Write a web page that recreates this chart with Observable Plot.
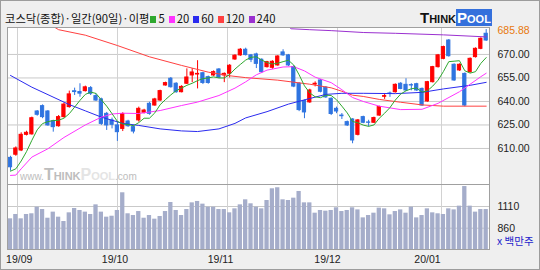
<!DOCTYPE html>
<html><head><meta charset="utf-8">
<script src="https://cdn.jsdelivr.net/npm/d3@7"></script>
<script src="https://cdn.jsdelivr.net/npm/@observablehq/plot@0.6"></script>
<style>
html,body{margin:0;padding:0;background:#efefef;}
#wrap{position:relative;width:540px;height:270px;background:#efefef;overflow:hidden;font-family:"Liberation Sans",sans-serif;}
#wrap svg{position:absolute;left:0;}
#border{position:absolute;left:0;top:0;width:540px;height:270px;box-sizing:border-box;border:1px solid #9c9c9c;pointer-events:none;}
.legend{position:absolute;left:5px;top:11px;font-family:"Noto Sans CJK KR";font-size:11.3px;line-height:14px;color:#111;white-space:nowrap;}
.sw{display:inline-block;width:6px;height:7px;margin:0 2px 0 1px;vertical-align:0px;}
.logo{position:absolute;left:420px;top:10px;font-weight:bold;font-variant:small-caps;font-size:15px;line-height:16px;white-space:nowrap;}
.logo .a{color:#111;}
.logo .b{color:#fff;background:#3470dc;padding:0 1px;}
.wm{position:absolute;left:20px;top:167px;white-space:nowrap;color:#bdbdbd;line-height:16px;}
.wm .s{font-size:10px;}
.wm .t{font-size:16px;font-weight:bold;font-variant:small-caps;}
.wm .p{font-size:16px;font-weight:bold;font-variant:small-caps;color:#e4e4e4;}
.unit{position:absolute;left:497px;top:235px;font-family:"Noto Sans CJK KR";font-size:10.5px;color:#2323cc;white-space:nowrap;line-height:12px;}
</style></head>
<body><div id="wrap"></div>
<script>
// ---- data: KOSDAQ daily, 90 trading days (2019-09-02 .. 2020-01-14) ----
const opens = [604,606,608.7,618.7,619,633.6,637,633.6,627.4,624.2,630,636.4,646.5,646,646.6,648.5,643.4,641.3,632.1,627.9,
624.7,622.5,627.2,623.6,627.9,632.8,638.5,637.4,640.6,650.2,654.5,651.3,645.9,651.3,656.6,657.2,658,655.5,656.6,660.4,
656.6,657.7,666.8,669.4,673,669.4,670,666.6,661.9,661.5,663,671.3,669.4,662,651.3,640.3,639.4,650.8,653.4,648.8,
641.7,635.3,631,626.8,628.5,618.7,630,626.6,626.4,631,643,645.1,645.9,651.3,650.6,650.4,651,648,640,652.3,
661.9,667.2,678.9,663.4,659.8,657.6,658.7,668.3,673.6,683.2];
const highs = [605,611,620,621,630,634.2,637.8,634.2,628,631,639,646.6,648.5,651.3,649.8,649.5,644.9,642.1,633,629.4,
626.8,632.8,628,624.5,636.4,635,639.5,642,647.2,652.3,655.3,652,650,660.8,661,666,658.6,656.2,659.5,661,
658.2,663.5,669.8,673.8,674,670,670.8,667.2,665.6,666,669.2,673,670,662.8,652,641,647.8,652.5,654,649.5,
642.3,636.4,632.3,627.5,629,628.5,630.6,628,630,637,645,646,651.2,652,654.5,651.3,651.6,648.6,652.8,662.4,
670,675.3,679.5,664,664,658.2,667.8,674.2,680.6,685.88];
const lows = [595.5,605,608,618,618.5,630.6,629,624.2,620.4,623.6,629.4,635.7,643.8,642.7,646,643.8,640,624.7,621.5,622.5,
614.5,620.8,623.5,619.3,626.8,632,631.2,637,640,649.8,648.5,645.2,645.5,650.8,652,648,650.8,651,656,654.6,
652,655,666.2,668.8,669,664.8,661,657.8,661.3,660.5,662.5,668.8,662.3,648.8,633.5,629,638.8,649.3,645.5,642,
631,632.2,628.5,624,613,618,625.8,623.8,626,630.5,641.3,642.6,645.3,647.5,646.4,646.8,646.4,637,639.5,651.8,
661.3,666.6,668.3,652.8,659.2,636.6,658.1,667.7,673,678.3];
const closes = [598,610,618.7,620,629.3,631.5,630,624.7,623.6,630,638,644.5,646,645,649,644.9,640.6,625.7,624.7,625.1,
620.4,632,624.2,620.8,635.3,634.2,632.1,641.3,646.6,651.7,649.1,645.9,649.3,655.3,658.5,657.6,651.8,651.8,658.7,655.2,
657.6,662.8,669.2,673,669.6,666.6,664,658.7,665.1,665.3,668.7,669.4,663,649.5,634.5,633,647,651.3,646.2,642.6,
632,633.6,630.6,624.7,615.1,627.9,626.4,626.4,629.4,636.4,643.4,644.9,650.6,648,647,650.2,647,637.4,652.3,661.9,
669.4,674.7,668.9,653.4,663.4,637.4,667.2,673.6,680,678.9];
// volume, x 백만주
const volumes = [968,1018,968,1018,1026,1102,1075,975,1045,987,937,1037,1087,1064,1045,1018,1129,1045,987,998,
1064,1268,1026,1006,1052,975,1006,964,995,1052,1156,1064,1006,1075,1152,1168,1137,1102,1102,1075,
1075,1037,1083,1129,1187,1141,1102,1083,1179,1314,1326,1187,1179,1206,1283,1152,1152,1033,1064,1056,
1064,1095,1052,1064,1095,1071,979,1006,1033,1091,1083,1014,1052,1071,1033,1102,979,1006,1083,1037,
1026,1018,1083,1071,1114,1340,1114,1045,1075,1075];
// moving averages
const ma5 = [595.5,597,602,608,615.2,621.9,625.9,627.1,627.8,628,629.3,632.2,636.4,640.7,644.5,646,645.1,641,637,632.2,
627.3,625.6,625.3,624.5,626.5,629.3,629.3,632.7,637.9,641.2,644.2,646.9,648.5,650.3,651.6,653.3,654.6,655,655.7,655,
655,657.2,660.7,663.6,666.4,668.2,668.5,666.4,664.8,663.9,664.4,665.4,666.3,663.2,657,650,645.4,643,642.4,644,
643.8,641.1,637,632.7,627.2,626.4,624.9,624.1,625,629.3,632.5,636.1,640.9,644.7,646.8,648.1,648.6,645.9,646.8,649.8,
653.6,659.1,665.4,665.7,666,659.6,658.1,659,664.3,668];
const ma20 = [[0,592.8],[1,593],[2,597],[4,604.5],[7,609.8],[10,617],[14,625],[17,630],[19,632],[21,632.5],[24,632.3],
[28,634.2],[32,637.4],[35,639.6],[39,643.8],[42,648.5],[44,652.5],[46,657],[48,660],[51,662],[53,662.2],[55,659.5],
[57,655.5],[60,652],[62,647.5],[64,642.5],[66,640],[69,637],[73,634.8],[77,635],[80,638.8],[84,646.2],[88,655.8],[89,658]];
const ma60 = [[0,656.6],[4,649.1],[11,638],[14,634],[17,630],[21,626],[24,624.7],[28,622.5],[32,621.2],[35,620.8],[39,622.5],
[42,626],[44,629.5],[48,633.5],[52,638.3],[55,641],[59,644.5],[62,645.2],[66,645.2],[72,645],[77,645.8],[81,648],[86,650.3],[89,652.2]];
const ma120 = [[0,697],[7,690],[9,685.8],[14,682.3],[20,675.7],[26,668.5],[32,663],[37,658.7],[41,656.4],[44,655.2],[50,653.6],
[56,651],[60,648.7],[62,646.5],[64,644],[66,643.2],[69,641.3],[73,639.5],[77,637.8],[81,637],[89,637]];
const ma240 = [[40,695],[48,692],[52,688],[52.5,686.4],[56,685.8],[60,685.2],[66,684],[72,683.5],[81,682.5],[89,681.2]];
const priceTicks = [610,625,640,655,670];
const volTicks = [860,1110];
const monthLabels = ["19/09","19/10","19/11","19/12","20/01"];
const monthGridIdx = [1.31,20.02,40.6,61.18,80.64];
const monthLabelIdx = [1.63,19.55,39.29,59.31,78.02];
const maNames = ["5","20","60","120","240"];
const maColors = ["#2ea82e","#ff33ff","#2b2bef","#ff4040","#9b30d0"];

// ---- build ----
const UP = "#ff0000", DOWN = "#2f74e0";
const candles = d3.range(opens.length).map(i => ({i, o: opens[i], h: highs[i], l: lows[i], c: closes[i], col: closes[i] >= opens[i] ? UP : DOWN}));
const vols = volumes.map((v, i) => ({i, v}));
const pts = a => a.map(([i, v]) => ({i, v}));
const ma5pts = ma5.map((v, i) => ({i, v}));
const xDomain = [-0.56, 89.62];
const style = {background: "transparent", fontFamily: "Liberation Sans", fontSize: "10.5px", color: "#222", overflow: "visible"};
const gridCol = "#c9c9c9";

const plotA = Plot.plot({
  width: 540, height: 185, marginLeft: 7, marginRight: 51, marginTop: 27, marginBottom: 1,
  x: {domain: xDomain, axis: null},
  y: {domain: [587, 687.2], axis: null},
  style,
  marks: [
    Plot.frame({fill: "white", stroke: "#a0a0a0"}),
    Plot.gridY(priceTicks, {stroke: gridCol, strokeOpacity: 1}),
    Plot.gridX(monthGridIdx, {stroke: "#d2d2d2", strokeOpacity: 1}),
    Plot.ruleX(candles, {x: "i", y1: "l", y2: "h", stroke: "col", strokeWidth: 1}),
    Plot.rect(candles, {x1: d => d.i - 0.3, x2: d => d.i + 0.3, y1: "o", y2: "c", fill: "col", stroke: "col", strokeWidth: 1}),
    Plot.line(pts(ma240), {x: "i", y: "v", stroke: maColors[4], strokeWidth: 1, clip: true}),
    Plot.line(pts(ma120), {x: "i", y: "v", stroke: maColors[3], strokeWidth: 1, clip: true}),
    Plot.line(pts(ma60), {x: "i", y: "v", stroke: maColors[2], strokeWidth: 1, clip: true}),
    Plot.line(pts(ma20), {x: "i", y: "v", stroke: maColors[1], strokeWidth: 1, clip: true}),
    Plot.line(ma5pts, {x: "i", y: "v", stroke: maColors[0], strokeWidth: 1, clip: true}),
    Plot.frame({stroke: "#a0a0a0"}),
    Plot.text(priceTicks, {y: d => d, text: d => d.toFixed(2), frameAnchor: "right", dx: 8, textAnchor: "start", fill: "#222"}),
    Plot.text([d3.max(highs)], {y: d => d, text: d => d.toFixed(2), frameAnchor: "right", dx: 8, dy: 1, textAnchor: "start", fill: "#e8780c"})
  ]
});
plotA.style.top = "0px";

const plotB = Plot.plot({
  width: 540, height: 87, marginLeft: 7, marginRight: 51, marginTop: 1, marginBottom: 21,
  x: {domain: xDomain, axis: null},
  y: {domain: [614.6, 1363.4], axis: null},
  style,
  marks: [
    Plot.frame({fill: "white", stroke: "#a0a0a0"}),
    Plot.gridY(volTicks, {stroke: gridCol, strokeOpacity: 1}),
    Plot.gridX(monthGridIdx, {stroke: "#d2d2d2", strokeOpacity: 1}),
    Plot.rectY(vols, {x1: d => d.i - 0.4, x2: d => d.i + 0.4, y: "v", fill: "#a5adca", clip: true}),
    Plot.frame({stroke: "#a0a0a0"}),
    Plot.text(volTicks, {y: d => d, text: d => String(d), frameAnchor: "right", dx: 8, dy: 0, textAnchor: "start", fill: "#222"}),
    Plot.text(monthLabels, {x: (d, i) => monthLabelIdx[i], text: d => d, frameAnchor: "bottom", dy: 13.5, fill: "#222"})
  ]
});
plotB.style.top = "183px";

const wrap = document.getElementById("wrap");
wrap.appendChild(plotA);
wrap.appendChild(plotB);

const legend = document.createElement("div");
legend.className = "legend";
let html = "코스닥(종합)·일간(90일)·이평";
maNames.forEach((n, k) => { html += `<span class="sw" style="background:${maColors[k]};margin-left:${k ? 4 : 1}px"></span>${n}`; });
legend.innerHTML = html;
wrap.appendChild(legend);

const logo = document.createElement("div");
logo.className = "logo";
logo.innerHTML = '<span class="a">Think</span><span class="b">Pool</span>';
wrap.appendChild(logo);

const wm = document.createElement("div");
wm.className = "wm";
wm.innerHTML = '<span class="s">www.</span><span class="t">Think</span><span class="p">Pool</span><span class="s">.com</span>';
wrap.appendChild(wm);

const unit = document.createElement("div");
unit.className = "unit";
unit.textContent = "x 백만주";
wrap.appendChild(unit);

const border = document.createElement("div");
border.id = "border";
wrap.appendChild(border);
</script></body></html>
